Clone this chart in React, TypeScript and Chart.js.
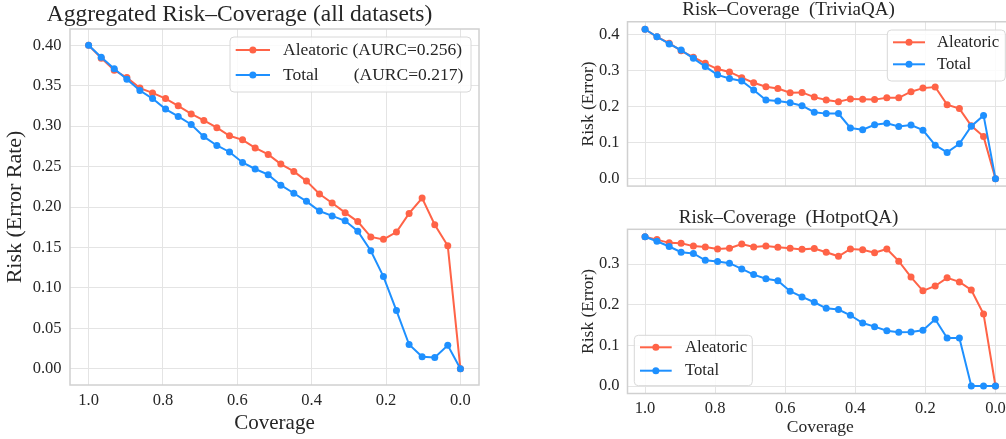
import React, { useEffect, useRef } from "react";
import { Chart, registerables } from "chart.js";
Chart.register(...registerables);

// ---------------- data ----------------
const coverage = [1.0, 0.966, 0.931, 0.897, 0.862, 0.828, 0.793, 0.759, 0.724, 0.69, 0.655, 0.621, 0.586, 0.552, 0.517, 0.483, 0.448, 0.414, 0.379, 0.345, 0.31, 0.276, 0.241, 0.207, 0.172, 0.138, 0.103, 0.069, 0.034, 0.0];

const allAleatoric = [0.4, 0.384, 0.369, 0.36, 0.347, 0.341, 0.334, 0.325, 0.315, 0.307, 0.298, 0.288, 0.283, 0.273, 0.265, 0.253, 0.244, 0.232, 0.216, 0.205, 0.193, 0.182, 0.163, 0.16, 0.169, 0.192, 0.211, 0.178, 0.152, 0.0];
const allTotal = [0.4, 0.385, 0.371, 0.358, 0.344, 0.334, 0.321, 0.312, 0.302, 0.287, 0.276, 0.268, 0.255, 0.247, 0.24, 0.227, 0.217, 0.207, 0.195, 0.189, 0.183, 0.17, 0.146, 0.114, 0.072, 0.03, 0.015, 0.014, 0.029, 0.0];

const triviaAleatoric = [0.416, 0.395, 0.377, 0.356, 0.338, 0.321, 0.305, 0.297, 0.281, 0.267, 0.256, 0.251, 0.239, 0.24, 0.227, 0.219, 0.214, 0.222, 0.221, 0.22, 0.225, 0.225, 0.242, 0.252, 0.255, 0.206, 0.195, 0.147, 0.117, 0.0];
const triviaTotal = [0.416, 0.395, 0.375, 0.358, 0.335, 0.312, 0.289, 0.279, 0.272, 0.247, 0.219, 0.216, 0.211, 0.203, 0.185, 0.181, 0.181, 0.141, 0.136, 0.15, 0.154, 0.145, 0.149, 0.135, 0.093, 0.073, 0.097, 0.146, 0.176, 0.0];

const hotpotAleatoric = [0.367, 0.36, 0.352, 0.351, 0.344, 0.342, 0.337, 0.339, 0.349, 0.342, 0.344, 0.341, 0.339, 0.336, 0.338, 0.329, 0.319, 0.337, 0.335, 0.328, 0.337, 0.307, 0.268, 0.234, 0.246, 0.266, 0.256, 0.236, 0.177, 0.0];
const hotpotTotal = [0.367, 0.356, 0.343, 0.329, 0.326, 0.309, 0.306, 0.302, 0.288, 0.274, 0.264, 0.259, 0.233, 0.219, 0.206, 0.191, 0.188, 0.174, 0.155, 0.146, 0.136, 0.132, 0.133, 0.137, 0.164, 0.118, 0.118, 0.0, 0.0, 0.0];

const xTicks = [1.0, 0.8, 0.6, 0.4, 0.2, 0.0];
const allYTicks = [0, 0.05, 0.1, 0.15, 0.2, 0.25, 0.3, 0.35, 0.4];
const triviaYTicks = [0, 0.1, 0.2, 0.3, 0.4];
const hotpotYTicks = [0, 0.1, 0.2, 0.3];

const allLabels = ["Aleatoric (AURC=0.256)", "Total        (AURC=0.217)"];
const shortLabels = ["Aleatoric", "Total"];

// ---------------- style ----------------
const FONT = "'Liberation Serif', 'Times New Roman', serif";
const RED = "#ff6347";
const BLUE = "#1e90ff";
const TEXT = "#262626";
const GRID = "#e4e4e4";
const FRAME = "#d0d0d0";

const framePlugin = {
  id: "frameBox",
  beforeDatasetsDraw(chart: any) {
    const { ctx, chartArea } = chart;
    ctx.save();
    ctx.strokeStyle = FRAME;
    ctx.lineWidth = 1.5;
    ctx.strokeRect(chartArea.left, chartArea.top, chartArea.right - chartArea.left, chartArea.bottom - chartArea.top);
    ctx.restore();
  },
};

const boxLegend = {
  id: "boxLegend",
  afterDatasetsDraw(chart: any, _args: any, opts: any) {
    if (!opts || !opts.show) return;
    const { ctx, chartArea } = chart;
    const x0 = chartArea.left + opts.x;
    const y0 = chartArea.top + opts.y;
    ctx.save();
    ctx.beginPath();
    const r = 4;
    const w = opts.w, h = opts.h;
    ctx.moveTo(x0 + r, y0);
    ctx.lineTo(x0 + w - r, y0);
    ctx.arcTo(x0 + w, y0, x0 + w, y0 + r, r);
    ctx.lineTo(x0 + w, y0 + h - r);
    ctx.arcTo(x0 + w, y0 + h, x0 + w - r, y0 + h, r);
    ctx.lineTo(x0 + r, y0 + h);
    ctx.arcTo(x0, y0 + h, x0, y0 + h - r, r);
    ctx.lineTo(x0, y0 + r);
    ctx.arcTo(x0, y0, x0 + r, y0, r);
    ctx.closePath();
    ctx.fillStyle = "rgba(255,255,255,0.85)";
    ctx.fill();
    ctx.strokeStyle = "#d8d8d8";
    ctx.lineWidth = 1;
    ctx.stroke();
    chart.data.datasets.forEach((ds: any, i: number) => {
      const ry = y0 + opts.rows[i];
      ctx.strokeStyle = ds.borderColor;
      ctx.lineWidth = 2;
      ctx.beginPath();
      ctx.moveTo(x0 + opts.lx0, ry);
      ctx.lineTo(x0 + opts.lx1, ry);
      ctx.stroke();
      ctx.fillStyle = ds.borderColor;
      ctx.beginPath();
      ctx.arc(x0 + (opts.lx0 + opts.lx1) / 2, ry, 3.5, 0, Math.PI * 2);
      ctx.fill();
      ctx.fillStyle = TEXT;
      ctx.font = `${opts.fontSize}px ${FONT}`;
      ctx.textBaseline = "middle";
      ctx.textAlign = "left";
      ctx.fillText(ds.label, x0 + opts.tx, ry);
    });
    ctx.restore();
  },
};

function makeConfig(p: any) {
  const mk = (label: string, vals: number[], color: string, order: number) => ({
    label,
    data: coverage.map((c, i) => ({ x: c, y: vals[i] })),
    borderColor: color,
    backgroundColor: color,
    pointBackgroundColor: color,
    pointBorderColor: color,
    pointBorderWidth: 0,
    pointRadius: 3.5,
    borderWidth: 2,
    tension: 0,
    order,
  });
  return {
    type: "line",
    data: {
      datasets: [mk(p.labels[0], p.a, RED, 2), mk(p.labels[1], p.t, BLUE, 1)],
    },
    options: {
      responsive: false,
      animation: false,
      devicePixelRatio: 1,
      layout: { padding: { left: 0, right: p.padRight, top: 0, bottom: 0 } },
      plugins: {
        legend: { display: false },
        tooltip: { enabled: false },
        title: {
          display: true,
          text: p.title,
          color: TEXT,
          font: { family: FONT, size: p.titleSize, weight: "normal", lineHeight: 1 },
          padding: { top: p.titlePadTop, bottom: p.titlePadBottom },
        },
        boxLegend: p.legend,
      },
      scales: {
        x: {
          type: "linear",
          min: -0.05,
          max: 1.05,
          reverse: true,
          afterBuildTicks: (s: any) => {
            s.ticks = xTicks.map((v) => ({ value: v }));
          },
          afterFit: (s: any) => {
            s.height = p.xH;
          },
          ticks: {
            display: p.showX,
            padding: p.xTickPad,
            color: TEXT,
            font: { family: FONT, size: 16.5 },
            callback: (v: any) => Number(v).toFixed(1),
          },
          grid: { color: GRID, lineWidth: 1, drawTicks: false },
          border: { display: false },
          title: {
            display: !!p.xTitle,
            text: p.xTitle || "",
            color: TEXT,
            font: { family: FONT, size: p.xTitleSize, lineHeight: 1.2 },
            padding: { top: 0, bottom: p.xTitlePad },
          },
        },
        y: {
          type: "linear",
          min: p.yMin,
          max: p.yMax,
          afterBuildTicks: (s: any) => {
            s.ticks = p.yTicks.map((v: number) => ({ value: v }));
          },
          afterFit: (s: any) => {
            s.width = p.yW;
          },
          ticks: {
            padding: p.yTickPad,
            color: TEXT,
            font: { family: FONT, size: 16.5 },
            callback: (v: any) => Number(v).toFixed(p.yDec),
          },
          grid: { color: GRID, lineWidth: 1, drawTicks: false },
          border: { display: false },
          title: {
            display: true,
            text: p.yTitle,
            color: TEXT,
            font: { family: FONT, size: p.yTitleSize, lineHeight: 1.2 },
            padding: { top: p.yTitlePad, bottom: 0 },
          },
        },
      },
    },
    plugins: [framePlugin, boxLegend],
  };
}

const leftParams = {
  labels: allLabels,
  a: allAleatoric,
  t: allTotal,
  padRight: 21,
  title: "Aggregated Risk\u2013Coverage (all datasets)",
  titleSize: 23.5,
  titlePadTop: 3,
  titlePadBottom: 2.5,
  xH: 54,
  showX: true,
  xTickPad: 5.5,
  xTitle: "Coverage",
  xTitleSize: 21,
  xTitlePad: 3.4,
  yMin: -0.02,
  yMax: 0.42,
  yTicks: allYTicks,
  yDec: 2,
  yW: 70,
  yTickPad: 8.5,
  yTitle: "Risk (Error Rate)",
  yTitleSize: 22,
  yTitlePad: 2,
  legend: { show: true, x: 160, y: 8, w: 241, h: 55, rows: [13, 38], lx0: 5.7, lx1: 40, tx: 53, fontSize: 17.5 },
};

const triviaParams = {
  labels: shortLabels,
  a: triviaAleatoric,
  t: triviaTotal,
  padRight: 0,
  title: "Risk\u2013Coverage  (TriviaQA)",
  titleSize: 19,
  titlePadTop: 1,
  titlePadBottom: 1.75,
  xH: 13.5,
  showX: false,
  xTickPad: 5.5,
  xTitle: "",
  xTitleSize: 17.5,
  xTitlePad: 0,
  yMin: -0.0208,
  yMax: 0.4368,
  yTicks: triviaYTicks,
  yDec: 1,
  yW: 67.5,
  yTickPad: 8,
  yTitle: "Risk (Error)",
  yTitleSize: 17.5,
  yTitlePad: 17.5,
  legend: { show: true, x: 259.8, y: 8.25, w: 118, h: 51, rows: [12.3, 34.3], lx0: 5.7, lx1: 37.7, tx: 49.7, fontSize: 16.7 },
};

const hotpotParams = {
  labels: shortLabels,
  a: hotpotAleatoric,
  t: hotpotTotal,
  padRight: 0,
  title: "Risk\u2013Coverage  (HotpotQA)",
  titleSize: 19,
  titlePadTop: 8.5,
  titlePadBottom: 1.8,
  xH: 45.5,
  showX: true,
  xTickPad: 5.5,
  xTitle: "Coverage",
  xTitleSize: 17.5,
  xTitlePad: 1.5,
  yMin: -0.01835,
  yMax: 0.38535,
  yTicks: hotpotYTicks,
  yDec: 1,
  yW: 67.5,
  yTickPad: 8,
  yTitle: "Risk (Error)",
  yTitleSize: 17.5,
  yTitlePad: 17.5,
  legend: { show: true, x: 6.8, y: 106, w: 118, h: 50.4, rows: [12, 35.4], lx0: 5.7, lx1: 37.4, tx: 50.7, fontSize: 16.7 },
};

function Panel({ left, top, width, height, params }: any) {
  const ref = useRef<HTMLCanvasElement>(null);
  useEffect(() => {
    const chart = new Chart(ref.current as HTMLCanvasElement, makeConfig(params) as any);
    return () => chart.destroy();
  }, []);
  return (
    <canvas
      ref={ref}
      width={width}
      height={height}
      style={{ position: "absolute", left, top, width, height }}
    />
  );
}

export default function App() {
  return (
    <div
      style={{
        position: "absolute",
        left: 0,
        top: 0,
        width: 1006,
        height: 439,
        overflow: "hidden",
        background: "#ffffff",
      }}
    >
      <Panel left={560} top={200} width={457} height={239} params={hotpotParams} />
      <Panel left={560} top={0} width={457} height={204} params={triviaParams} />
      <Panel left={0} top={0} width={500} height={439} params={leftParams} />
    </div>
  );
}
